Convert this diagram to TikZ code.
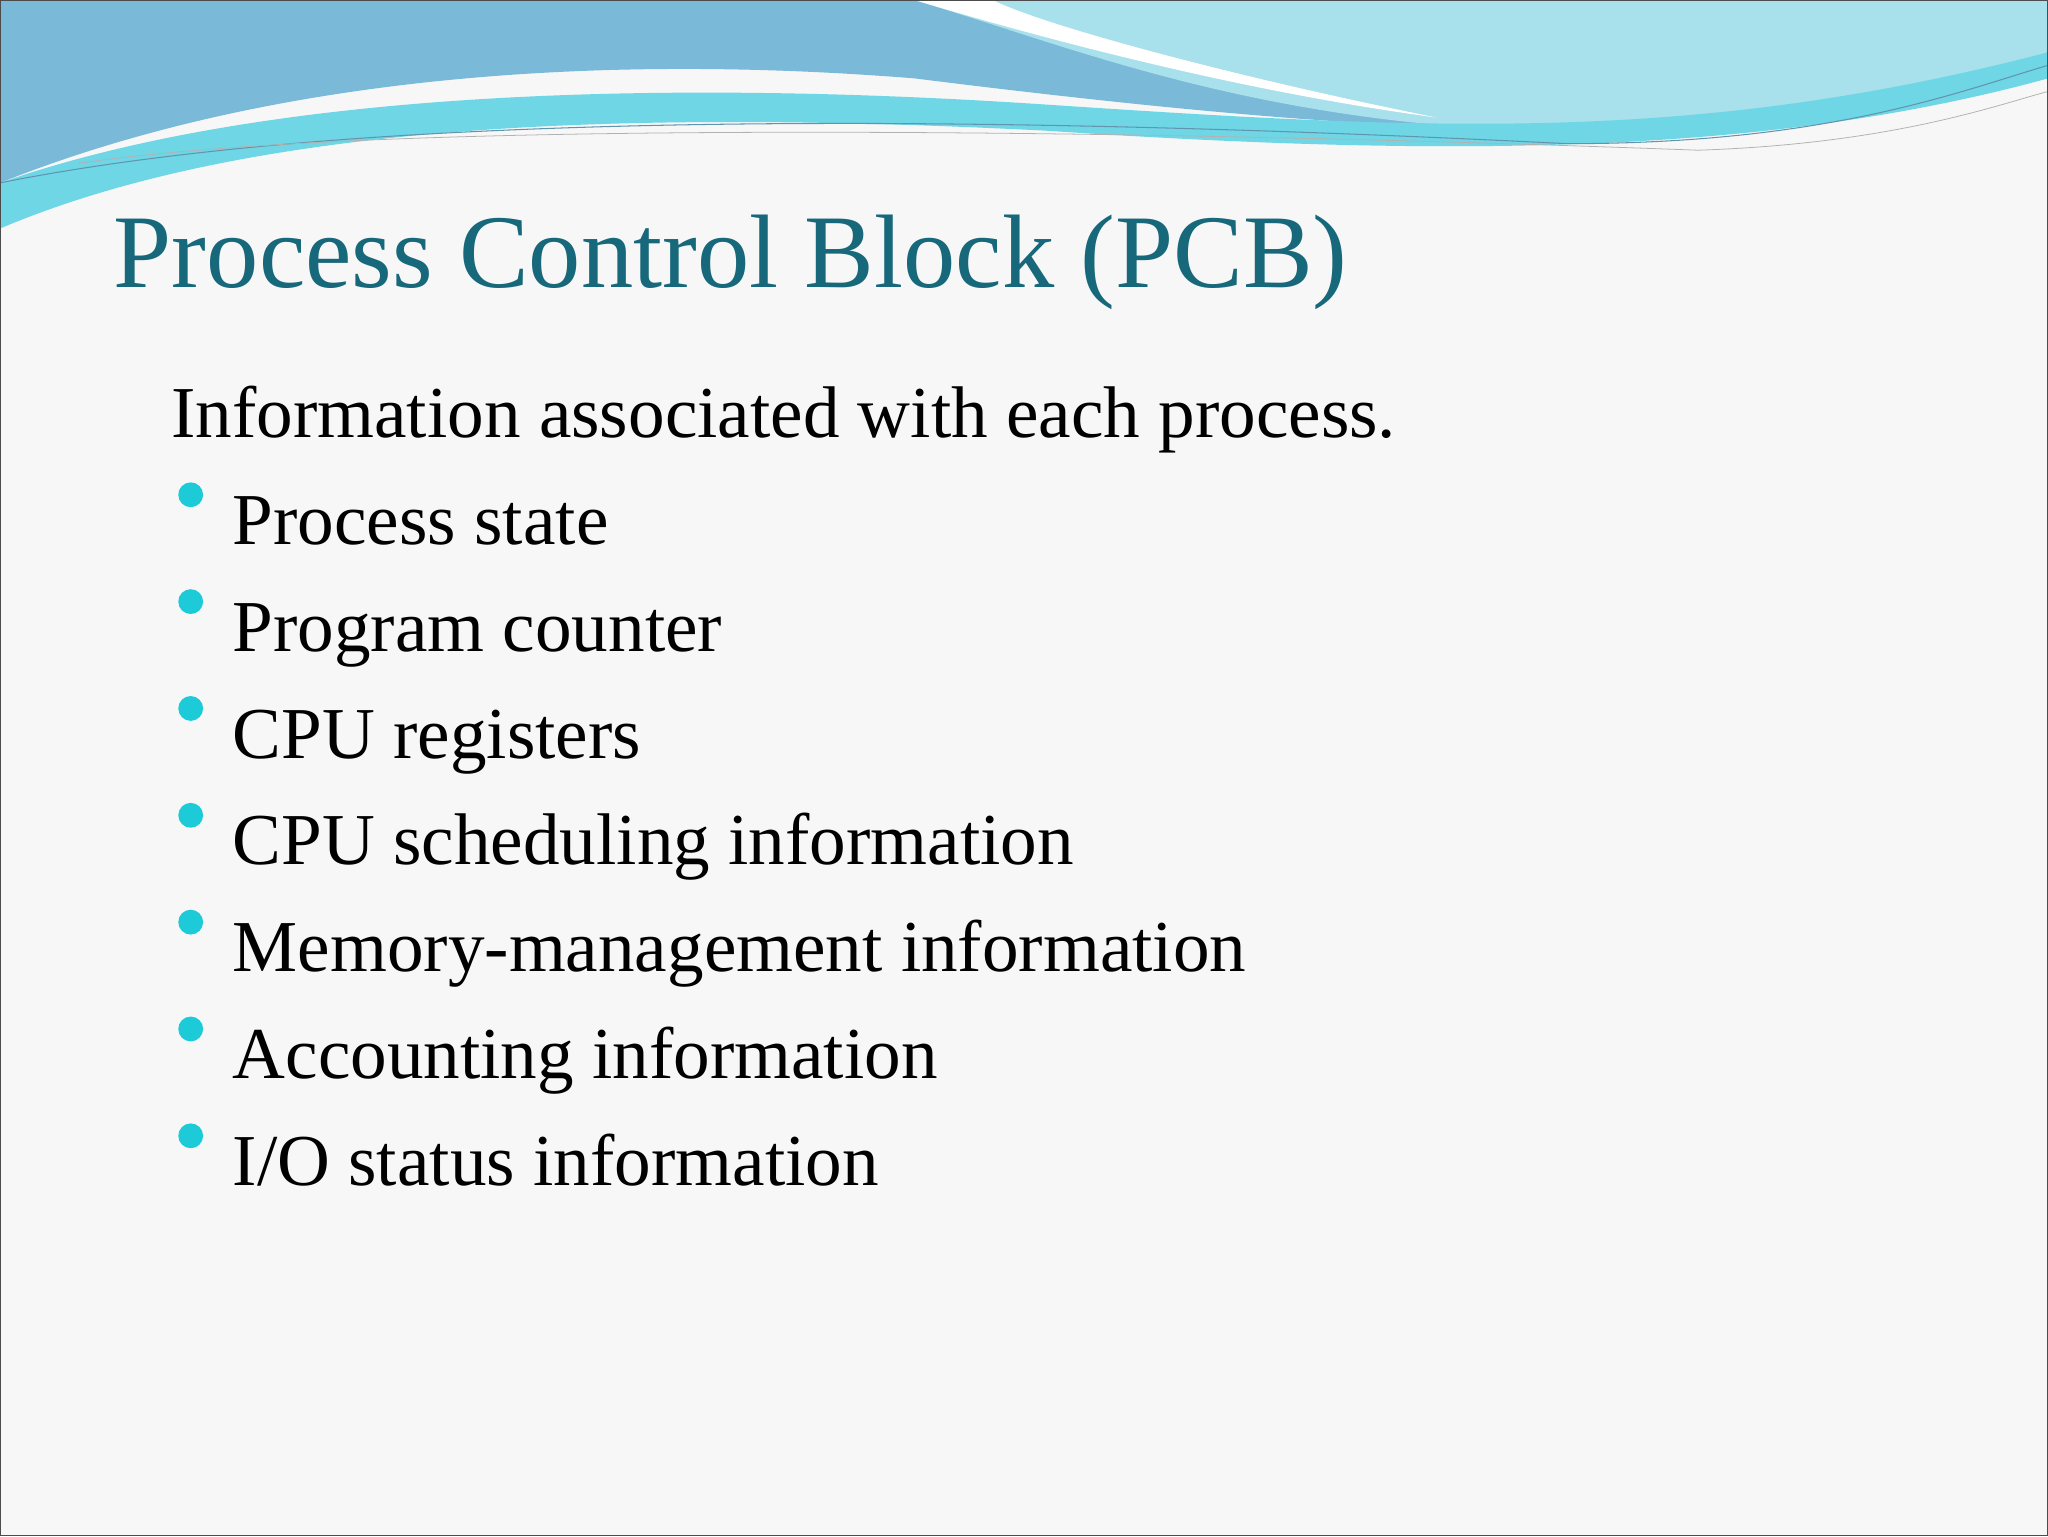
\documentclass[tikz,border=0pt]{standalone}
\usepackage{fontspec}
\setmainfont{Liberation Serif}
\definecolor{titleteal}{HTML}{16687A}
\definecolor{bul}{HTML}{1CCAD8}
\definecolor{waveA}{HTML}{7BB9D8}
\definecolor{waveB}{HTML}{6FD6E6}
\definecolor{waveC}{HTML}{A8E0EC}
\definecolor{bg}{HTML}{F7F7F7}
\tikzset{item/.style={anchor=base west,font=\fontsize{56}{60}\selectfont,inner sep=0pt},
bullet/.style={circle,fill=bul,inner sep=0pt,minimum size=19pt}}
\begin{document}
\begin{tikzpicture}[x=1pt,y=-1pt]
\useasboundingbox (0,0) rectangle (1568,1176);
\fill[bg] (0,0) rectangle (1568,1176);
% waves
\fill[waveA] (0,0) -- (1568,0) -- (1568,40) .. controls (1350,120) and (1100,110) .. (700,60) .. controls (450,40) and (200,60) .. (0,140) -- cycle;
\fill[waveC] (700,0) -- (1568,0) -- (1568,40) .. controls (1400,100) and (1200,110) .. (1050,90) .. controls (900,70) and (800,30) .. (700,0) -- cycle;
\fill[waveB] (0,140) .. controls (200,70) and (500,60) .. (800,80) .. controls (1100,100) and (1300,110) .. (1568,40) -- (1568,60) .. controls (1350,120) and (1100,120) .. (800,100) .. controls (500,85) and (200,90) .. (0,175) -- cycle;
\fill[white] (700,0) .. controls (800,30) and (950,70) .. (1100,90) .. controls (950,60) and (800,20) .. (760,0) -- cycle;
\draw[waveA!80!black,line width=0.8pt] (0,140) .. controls (300,80) and (800,90) .. (1200,110) .. controls (1400,110) and (1500,70) .. (1568,50);
\draw[gray!60,line width=0.6pt] (60,125) .. controls (300,90) and (900,100) .. (1300,115) .. controls (1450,110) and (1530,80) .. (1568,70);
\draw[black!70,line width=0.8pt] (0.5,0.5) rectangle (1567.5,1175.5);
% title
\node[anchor=base west,inner sep=0pt,text=titleteal,font=\fontsize{80}{84}\selectfont] (title) at (87,220) {Process Control Block (PCB)};
\node[item] (intro) at (131,335) {Information associated with each process.};
\foreach \t [count=\i] in {Process state,Program counter,CPU registers,CPU scheduling information,Memory-management information,Accounting information,I/O status information}{
  \node[item] (it\i) at (178,335+\i*81.8) {\t};
  \node[bullet] (b\i) at (146,317+\i*81.8-20) {};
}
\end{tikzpicture}
\end{document}
